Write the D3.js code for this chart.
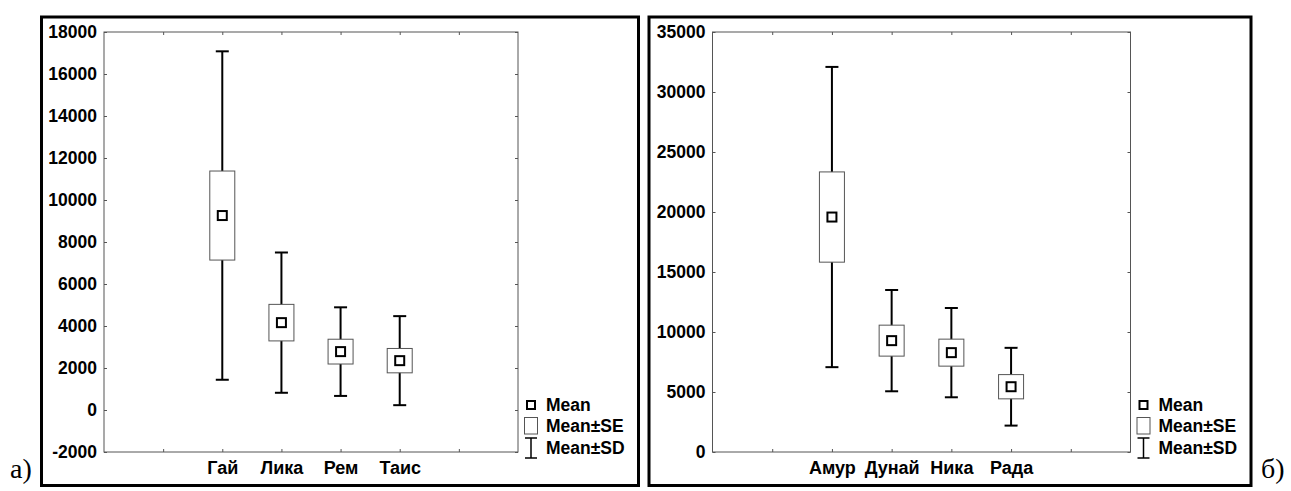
<!DOCTYPE html>
<html>
<head>
<meta charset="utf-8">
<script src="https://cdn.jsdelivr.net/npm/d3@7"></script>
<style>
  body { margin: 0; background: #fff; }
  text { font-family: "Liberation Sans", Arial, sans-serif; font-weight: bold; }
</style>
</head>
<body>
<div id="chart"></div>
<script>
// panel a)
var groupsA = ["Гай", "Лика", "Рем", "Таис"];
var meanA = [9260, 4160, 2780, 2350];
var seA = [2120, 870, 590, 580];
var sdA = [7820, 3340, 2110, 2120];
var ticksA = [-2000, 0, 2000, 4000, 6000, 8000, 10000, 12000, 14000, 16000, 18000];

// panel б)
var groupsB = ["Амур", "Дунай", "Ника", "Рада"];
var meanB = [19580, 9280, 8280, 5440];
var seB = [3760, 1290, 1125, 1010];
var sdB = [12510, 4220, 3720, 3240];
var ticksB = [0, 5000, 10000, 15000, 20000, 25000, 30000, 35000];

var legendLabels = ["Mean", "Mean±SE", "Mean±SD"];

var width = 1291;
var height = 491;

var svg = d3.select("#chart")
    .append("svg")
    .attr("width", width)
    .attr("height", height);

function drawPanel(frame, plot, groups, means, ses, sds, ticks, letter, letterX) {

    // outer frame
    svg.append("rect")
        .attr("x", frame[0]).attr("y", frame[1])
        .attr("width", frame[2]).attr("height", frame[3])
        .attr("fill", "none")
        .attr("stroke", "#000")
        .attr("stroke-width", 3);

    var x = d3.scaleLinear().domain([0, 7]).range([plot.left, plot.right]);
    var y = d3.scaleLinear().domain([ticks[0], ticks[ticks.length - 1]]).range([plot.bottom, plot.top]);

    var g = svg.append("g");

    // plot box
    g.append("rect")
        .attr("x", plot.left).attr("y", plot.top)
        .attr("width", plot.right - plot.left).attr("height", plot.bottom - plot.top)
        .attr("fill", "none")
        .attr("stroke", "#555")
        .attr("stroke-width", 1);

    var xt = [1, 2, 3, 4, 5, 6];

    // bottom axis (ticks inward)
    var bottom = g.append("g")
        .attr("transform", "translate(0," + plot.bottom + ")")
        .call(d3.axisBottom(x).tickValues(xt).tickSizeInner(-3).tickSizeOuter(0).tickPadding(9)
            .tickFormat(d => groups[d - 2] || ""));
    bottom.select(".domain").remove();
    bottom.selectAll("line").attr("stroke", "#555");
    bottom.selectAll("text").attr("fill", "#000").style("font-size", "18px");

    // top axis
    var top = g.append("g")
        .attr("transform", "translate(0," + plot.top + ")")
        .call(d3.axisTop(x).tickValues(xt).tickSizeInner(-3).tickSizeOuter(0).tickFormat(""));
    top.select(".domain").remove();
    top.selectAll("line").attr("stroke", "#555");

    // left axis
    var left = g.append("g")
        .attr("transform", "translate(" + plot.left + ",0)")
        .call(d3.axisLeft(y).tickValues(ticks).tickSizeInner(-3).tickSizeOuter(0).tickPadding(7)
            .tickFormat(d => String(d)));
    left.select(".domain").remove();
    left.selectAll("line").attr("stroke", "#555");
    left.selectAll("text").attr("fill", "#000").style("font-size", "17.5px");

    // right axis
    var right = g.append("g")
        .attr("transform", "translate(" + plot.right + ",0)")
        .call(d3.axisRight(y).tickValues(ticks).tickSizeInner(-3).tickSizeOuter(0).tickFormat(""));
    right.select(".domain").remove();
    right.selectAll("line").attr("stroke", "#555");

    var data = groups.map((name, i) => ({ name: name, pos: i + 2, mean: means[i], se: ses[i], sd: sds[i] }));

    var items = g.selectAll(".item")
        .data(data)
        .join("g")
        .attr("class", "item");

    // whiskers (mean ± SD)
    items.append("line")
        .attr("x1", d => x(d.pos)).attr("x2", d => x(d.pos))
        .attr("y1", d => y(d.mean + d.sd)).attr("y2", d => y(d.mean - d.sd))
        .attr("stroke", "#000").attr("stroke-width", 2);
    items.append("line")
        .attr("x1", d => x(d.pos) - 6.5).attr("x2", d => x(d.pos) + 6.5)
        .attr("y1", d => y(d.mean + d.sd)).attr("y2", d => y(d.mean + d.sd))
        .attr("stroke", "#000").attr("stroke-width", 2);
    items.append("line")
        .attr("x1", d => x(d.pos) - 6.5).attr("x2", d => x(d.pos) + 6.5)
        .attr("y1", d => y(d.mean - d.sd)).attr("y2", d => y(d.mean - d.sd))
        .attr("stroke", "#000").attr("stroke-width", 2);

    // box (mean ± SE)
    items.append("rect")
        .attr("x", d => x(d.pos) - 12.5)
        .attr("width", 25)
        .attr("y", d => y(d.mean + d.se))
        .attr("height", d => y(d.mean - d.se) - y(d.mean + d.se))
        .attr("fill", "#fff")
        .attr("stroke", "#555")
        .attr("stroke-width", 1);

    // mean marker
    items.append("rect")
        .attr("x", d => x(d.pos) - 4.5)
        .attr("y", d => y(d.mean) - 4.5)
        .attr("width", 9).attr("height", 9)
        .attr("fill", "#fff")
        .attr("stroke", "#000")
        .attr("stroke-width", 2);

    // legend
    var lx = plot.right + 13;
    var leg = g.append("g");
    leg.append("rect")
        .attr("x", lx - 4).attr("y", 401).attr("width", 8).attr("height", 8)
        .attr("fill", "#fff").attr("stroke", "#000").attr("stroke-width", 2);
    leg.append("rect")
        .attr("x", lx - 6.5).attr("y", 417.5).attr("width", 13).attr("height", 16.5)
        .attr("fill", "#fff").attr("stroke", "#555").attr("stroke-width", 1);
    leg.append("line")
        .attr("x1", lx).attr("x2", lx).attr("y1", 438).attr("y2", 458)
        .attr("stroke", "#000").attr("stroke-width", 1.5);
    leg.append("line")
        .attr("x1", lx - 6).attr("x2", lx + 6).attr("y1", 438).attr("y2", 438)
        .attr("stroke", "#000").attr("stroke-width", 1.5);
    leg.append("line")
        .attr("x1", lx - 6).attr("x2", lx + 6).attr("y1", 458).attr("y2", 458)
        .attr("stroke", "#000").attr("stroke-width", 1.5);
    leg.selectAll(".lt")
        .data(legendLabels)
        .join("text")
        .attr("class", "lt")
        .attr("x", plot.right + 28)
        .attr("y", (d, i) => [411, 431.5, 454][i])
        .style("font-size", "17.5px")
        .text(d => d);

    // panel letter
    svg.append("text")
        .attr("x", letterX)
        .attr("y", 478)
        .style("font-family", "'Liberation Serif', 'Times New Roman', serif")
        .style("font-weight", "normal")
        .style("font-size", "28px")
        .text(letter);
}

drawPanel([41.5, 17, 597, 468.5], { left: 104, right: 518, top: 32, bottom: 452 },
    groupsA, meanA, seA, sdA, ticksA, "а)", 10);

drawPanel([649, 17, 602, 468.5], { left: 712.5, right: 1130.5, top: 32, bottom: 452 },
    groupsB, meanB, seB, sdB, ticksB, "б)", 1261);
</script>
</body>
</html>
